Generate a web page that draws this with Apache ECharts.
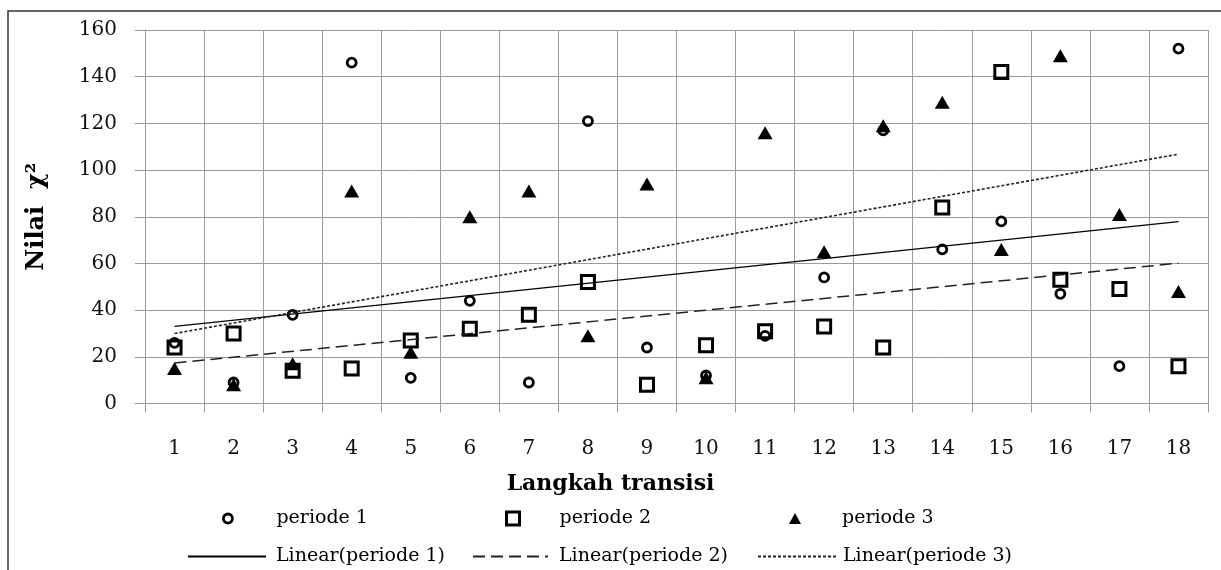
<!DOCTYPE html>
<html>
<head>
<meta charset="utf-8">
<script src="https://cdn.jsdelivr.net/npm/echarts@6/dist/echarts.min.js"></script>
<style>
  html, body { margin: 0; padding: 0; background: #fff; }
  #chart { width: 1221px; height: 570px; }
</style>
</head>
<body>
<div id="chart"></div>
<script>
// Langkah transisi 1..18
const steps = ['1', '2', '3', '4', '5', '6', '7', '8', '9', '10', '11', '12', '13', '14', '15', '16', '17', '18']
// nilai chi-kuadrat per periode
const periode1 = [26, 9, 38, 146, 11, 44, 9, 121, 24, 12, 29, 54, 117, 66, 78, 47, 16, 152]
const periode2 = [24, 30, 14, 15, 27, 32, 38, 52, 8, 25, 31, 33, 24, 84, 142, 53, 49, 16]
const periode3 = [15, 8, 17, 91, 22, 80, 91, 29, 94, 11, 116, 65, 119, 129, 66, 149, 81, 48]
const yTicks = [0, 20, 40, 60, 80, 100, 120, 140, 160]

const FONT = 'DejaVu Serif'
const GRID = '#9a9a9a'
const NONE = 'rgba(0,0,0,0)'

// least squares trend (like the Excel "Linear" trendline), returned as end points
function trend(ys) {
  const n = ys.length
  const xs = ys.map((_, i) => i + 1)
  const mx = xs.reduce((a, b) => a + b, 0) / n
  const my = ys.reduce((a, b) => a + b, 0) / n
  let sxy = 0, sxx = 0
  xs.forEach((x, i) => { sxy += (x - mx) * (ys[i] - my); sxx += (x - mx) * (x - mx) })
  const k = sxy / sxx
  const c = my - k * mx
  return [[0, c + k * 1], [n - 1, c + k * n]]
}

const chart = echarts.init(document.getElementById('chart'))

const legendText = (pad) => ({ fontFamily: FONT, fontSize: 19, color: '#000', padding: [0, 0, 0, pad] })

chart.setOption({
  animation: false,
  textStyle: { fontFamily: FONT },
  grid: { left: 145, right: 13, top: 30, height: 373.5 },
  title: {
    text: 'Langkah transisi',
    left: 'center',
    top: 468,
    textStyle: { fontFamily: FONT, fontSize: 22, fontWeight: 'bold', color: '#000' },
  },
  legend: [
    { data: ['periode 1'], left: 217, top: 504, itemWidth: 9, itemHeight: 9, itemGap: 0, selectedMode: false,
      itemStyle: { borderWidth: 2.8, borderColor: '#000' }, textStyle: legendText(39) },
    { data: ['periode 2'], left: 500, top: 504, itemWidth: 13, itemHeight: 13, itemGap: 0, selectedMode: false,
      itemStyle: { borderWidth: 3, borderColor: '#000' }, textStyle: legendText(35) },
    { data: ['periode 3'], left: 784, top: 504, itemWidth: 12, itemHeight: 11, itemGap: 0, selectedMode: false, textStyle: legendText(36) },
    { data: ['Linear(periode 1)'], left: 182, top: 542, itemWidth: 78, itemHeight: 14, itemGap: 0, selectedMode: false, textStyle: legendText(5) },
    { data: ['Linear(periode 2)'], left: 467, top: 542, itemWidth: 75, itemHeight: 14, itemGap: 0, selectedMode: false, textStyle: legendText(6) },
    { data: ['Linear(periode 3)'], left: 752, top: 542, itemWidth: 80, itemHeight: 14, itemGap: 0, selectedMode: false, textStyle: legendText(0) },
  ],
  xAxis: {
    type: 'category',
    data: steps,
    boundaryGap: true,
    axisLine: { lineStyle: { color: GRID, width: 1 } },
    axisTick: { show: true, length: 9, interval: 0, lineStyle: { color: GRID } },
    axisLabel: { margin: 35, fontSize: 20, color: '#111', fontFamily: FONT, interval: 0 },
    splitLine: { show: true, interval: 0, lineStyle: { color: GRID, width: 1 } },
  },
  yAxis: {
    type: 'value',
    min: yTicks[0],
    max: yTicks[yTicks.length - 1],
    interval: 20,
    name: 'Nilai  χ²',
    nameLocation: 'middle',
    nameGap: 96,
    nameTextStyle: { fontFamily: FONT, fontSize: 24, fontWeight: 'bold', color: '#000' },
    axisLine: { show: true, lineStyle: { color: GRID, width: 1 } },
    axisTick: { show: true, length: 10, lineStyle: { color: GRID } },
    axisLabel: { margin: 28, fontSize: 20, color: '#111', fontFamily: FONT },
    splitLine: { show: true, lineStyle: { color: GRID, width: 1 } },
  },
  graphic: [
    {
      type: 'rect',
      silent: true,
      z: -10,
      shape: { x: 8, y: 11, width: 1300, height: 700 },
      style: { fill: 'none', stroke: '#333', lineWidth: 1.5 },
    },
  ],
  series: [
    {
      name: 'periode 1', type: 'scatter', data: periode1,
      symbol: 'circle', symbolSize: 9,
      itemStyle: { color: NONE, borderColor: '#000', borderWidth: 2.8, opacity: 1 },
    },
    {
      name: 'periode 2', type: 'scatter', data: periode2,
      symbol: 'rect', symbolSize: 13,
      itemStyle: { color: NONE, borderColor: '#000', borderWidth: 3, opacity: 1 },
    },
    {
      name: 'periode 3', type: 'scatter', data: periode3,
      symbol: 'triangle', symbolSize: [15, 13],
      itemStyle: { color: '#000', opacity: 1 },
    },
    {
      name: 'Linear(periode 1)', type: 'line', data: trend(periode1), symbol: 'none',
      itemStyle: { color: NONE },
      lineStyle: { color: '#000', width: 1.3, type: 'solid' },
    },
    {
      name: 'Linear(periode 2)', type: 'line', data: trend(periode2), symbol: 'none',
      itemStyle: { color: NONE },
      lineStyle: { color: '#222', width: 1.5, type: [12, 6] },
    },
    {
      name: 'Linear(periode 3)', type: 'line', data: trend(periode3), symbol: 'none',
      itemStyle: { color: NONE },
      lineStyle: { color: '#222', width: 1.6, type: [3, 2] },
    },
  ],
})
</script>
</body>
</html>
